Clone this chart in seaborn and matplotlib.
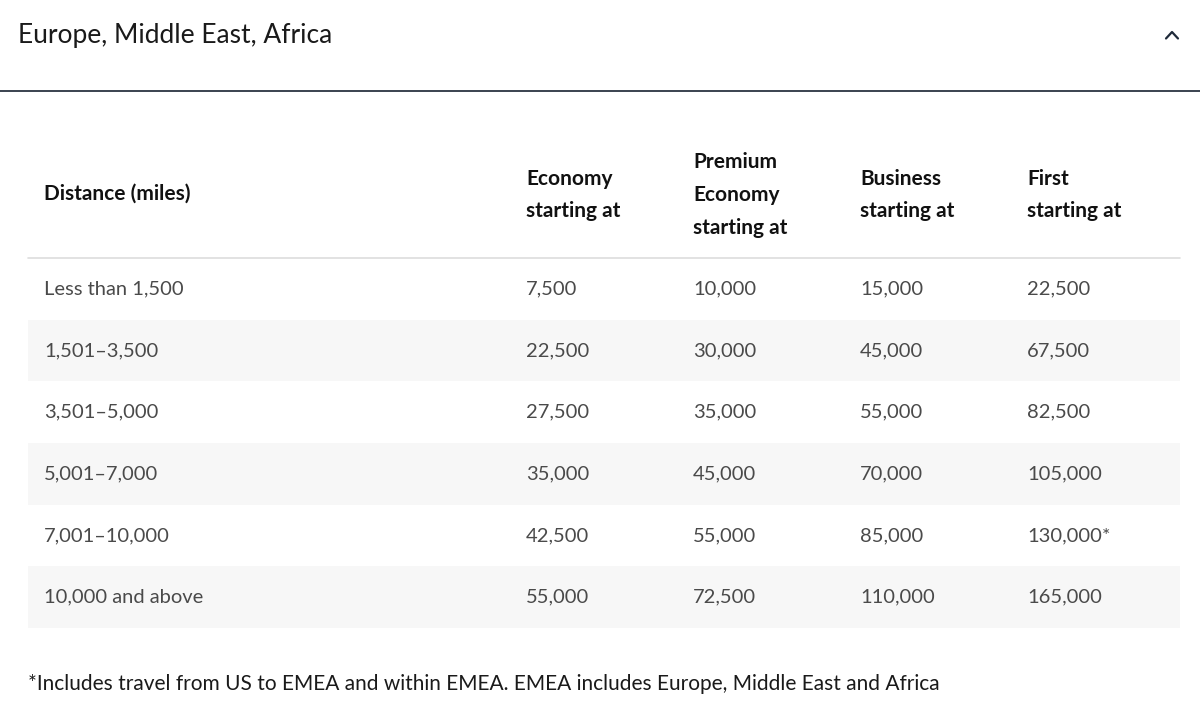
import matplotlib
matplotlib.use("Agg")
import matplotlib.pyplot as plt
from matplotlib.colors import ListedColormap
import seaborn as sns
import numpy as np

# table content
title = "Europe, Middle East, Africa"
headers = ["Distance (miles)", "Economy\nstarting at", "Premium\nEconomy\nstarting at",
           "Business\nstarting at", "First\nstarting at"]
distances = ["Less than 1,500", "1,501\u20133,500", "3,501\u20135,000", "5,001\u20137,000",
             "7,001\u201310,000", "10,000 and above"]
economy = ["7,500", "22,500", "27,500", "35,000", "42,500", "55,000"]
premium = ["10,000", "30,000", "35,000", "45,000", "55,000", "72,500"]
business = ["15,000", "45,000", "55,000", "70,000", "85,000", "110,000"]
first = ["22,500", "67,500", "82,500", "105,000", "130,000*", "165,000"]
footnote = "*Includes travel from US to EMEA and within EMEA. EMEA includes Europe, Middle East and Africa"

columns = [distances, economy, premium, business, first]

# layout in pixels
W, H = 1200, 711
col_x = [44, 526, 693, 860, 1027]
tbl_left, tbl_right = 28, 1180
tbl_top, tbl_bottom = 258, 628
row_h = (tbl_bottom - tbl_top) / len(distances)

sns.set_theme(style="white")
plt.rcParams["font.family"] = ["Lato", "DejaVu Sans"]

fig = plt.figure(figsize=(12, 7.11), dpi=100)
fig.patch.set_facecolor("white")

# background axes in pixel coordinates
ax = fig.add_axes([0, 0, 1, 1])
ax.set_xlim(0, W)
ax.set_ylim(H, 0)
ax.axis("off")

# striped rows via a one-column heatmap
hm_ax = fig.add_axes([tbl_left / W, 1 - tbl_bottom / H,
                      (tbl_right - tbl_left) / W, (tbl_bottom - tbl_top) / H])
stripes = np.array([[i % 2] for i in range(len(distances))])
sns.heatmap(stripes, cmap=ListedColormap(["white", "#f7f7f7"]), cbar=False,
            xticklabels=False, yticklabels=False, ax=hm_ax, vmin=0, vmax=1)
hm_ax.set_zorder(0)
ax.set_zorder(1)
ax.patch.set_alpha(0)

# title, chevron and divider
ax.text(18, 35, title, fontsize=19, color="#1a1a1a", va="center", ha="left")
ax.plot([1166, 1172, 1178], [38.5, 32, 38.5], color="#1f2a3a", lw=1.6, solid_capstyle="round")
ax.plot([0, W], [91, 91], color="#2b3441", lw=1.3)

# header row
ax.text(col_x[0], 194, headers[0], fontsize=15, fontweight="bold", color="#111111",
        va="center", ha="left")
for x, h in zip(col_x[1:], headers[1:]):
    ax.text(x, 195, h, fontsize=15, fontweight="bold", color="#111111",
            va="center", ha="left", linespacing=1.8)
ax.plot([tbl_left, tbl_right], [tbl_top, tbl_top], color="#dddddd", lw=1.2)

# body
for r in range(len(distances)):
    y = tbl_top + row_h * (r + 0.5)
    for x, col in zip(col_x, columns):
        ax.text(x, y, col[r], fontsize=14.5, color="#4a4a4a", va="center", ha="left")

ax.text(28, 684, footnote, fontsize=15, color="#1a1a1a", va="center", ha="left")

fig.savefig("out.png", dpi=100, facecolor="white")
